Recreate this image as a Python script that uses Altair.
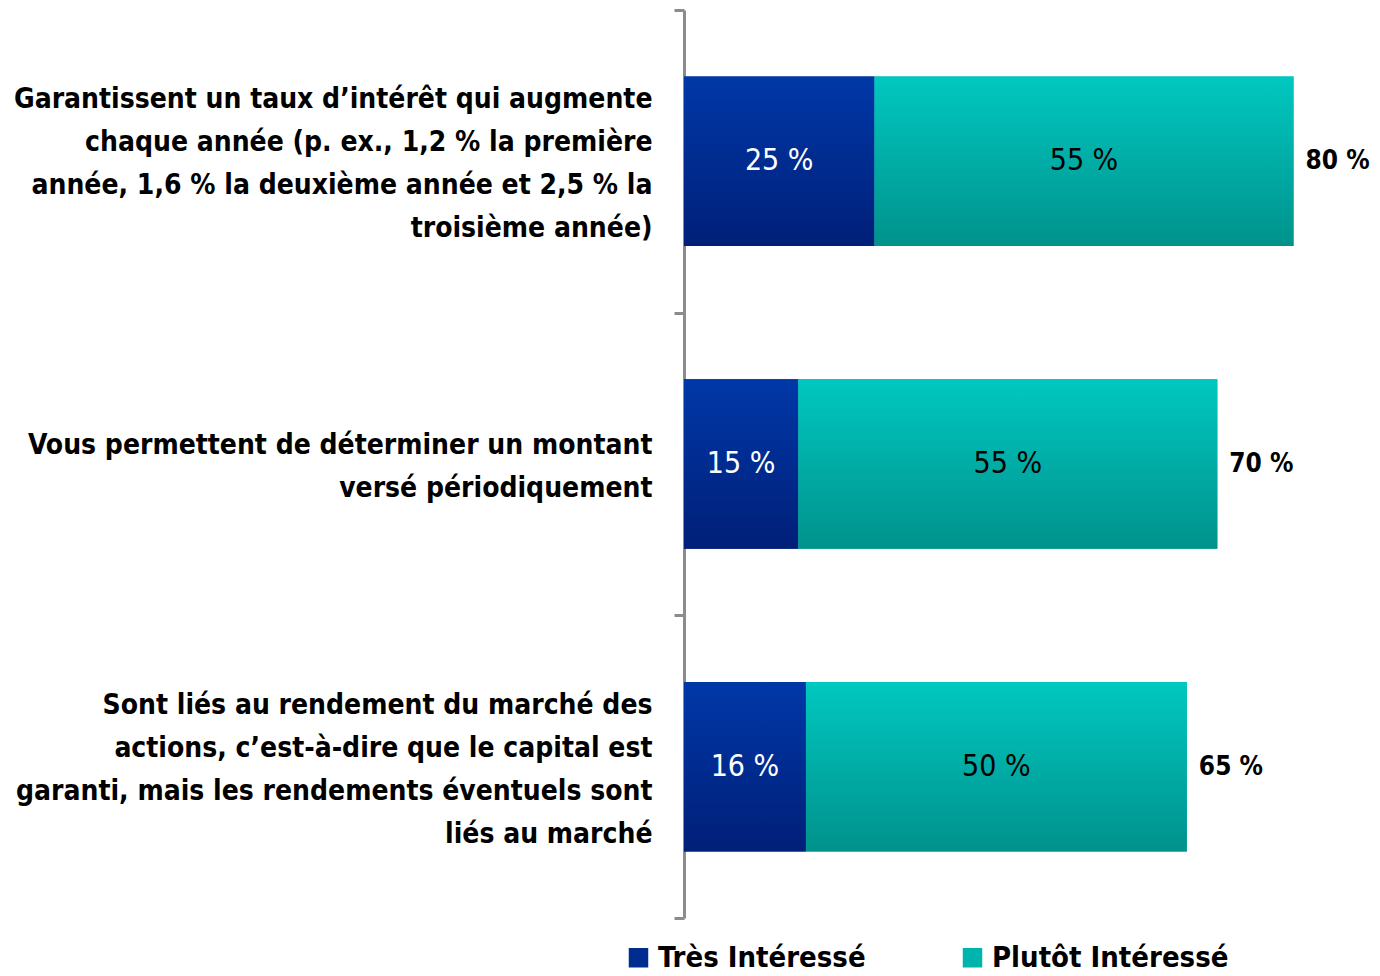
import altair as alt
import pandas as pd

categories = [
    "Garantissent un taux d’intérêt qui augmente|chaque année (p. ex., 1,2 % la première|année, 1,6 % la deuxième année et 2,5 % la|troisième année)",
    "|Vous permettent de déterminer un montant|versé périodiquement|",
    "Sont liés au rendement du marché des|actions, c’est-à-dire que le capital est|garanti, mais les rendements éventuels sont|liés au marché",
]
series_labels = ["Très Intéressé", "Plutôt Intéressé"]
tres = [25, 15, 16]
plutot = [55, 55, 50]
totals = [80, 70, 65]

FONT = "DejaVu Sans Condensed, Liberation Sans Narrow, DejaVu Sans, sans-serif"

rows = []
for i, c in enumerate(categories):
    rows.append({"category": c, "series": series_labels[0], "order": 0, "value": tres[i]})
    rows.append({"category": c, "series": series_labels[1], "order": 1, "value": plutot[i]})
df = pd.DataFrame(rows)

tot_df = pd.DataFrame({
    "category": categories,
    "end": [t + p for t, p in zip(tres, plutot)],
    "label": [f"{t} %" for t in totals],
})

y_enc = alt.Y(
    "category:N",
    sort=categories,
    title=None,
    scale=alt.Scale(paddingInner=0, paddingOuter=0),
    axis=alt.Axis(
        labelExpr="split(datum.label, '|')",
        labelFont=FONT,
        labelFontSize=28,
        labelFontWeight="bold",
        labelColor="black",
        labelLineHeight=43,
        labelAlign="right",
        labelBaseline="middle",
        labelOffset=-61.5,
        labelPadding=22,
        labelLimit=700,
        tickBand="extent",
        tickSize=10,
        tickWidth=3,
        tickColor="#8c8c8c",
        domainColor="#8c8c8c",
        domainWidth=3,
        grid=False,
    ),
)
x_scale = alt.Scale(domain=[0, 90.3], nice=False, zero=True)

base = alt.Chart(df).transform_stack(
    stack="value", groupby=["category"], as_=["x0", "x1"], sort=[alt.SortField("order")]
)

BAR_H = {"band": 0.56}

legend_bars = base.mark_bar(height=BAR_H).encode(
    x=alt.X("x0:Q", scale=x_scale, axis=None),
    x2="x1:Q",
    y=y_enc,
    color=alt.Color(
        "series:N",
        scale=alt.Scale(domain=series_labels, range=["#002c90", "#00b4ae"]),
        legend=alt.Legend(
            title=None,
            orient="none",
            legendX=-60,
            legendY=933,
            direction="horizontal",
            symbolType="square",
            symbolSize=380,
            symbolStrokeWidth=0,
            labelFont=FONT,
            labelFontSize=29,
            labelFontWeight="bold",
            labelColor="black",
            labelLimit=400,
            columnPadding=92,
            labelOffset=5,
        ),
    ),
)

def grad(top, bottom):
    return alt.Gradient(
        gradient="linear",
        stops=[alt.GradientStop(color=top, offset=0), alt.GradientStop(color=bottom, offset=1)],
        x1=0, x2=0, y1=0, y2=1,
    )

bars_tres = base.transform_filter(alt.datum.series == series_labels[0]).mark_bar(
    color=grad("#0038a8", "#001f78"), height=BAR_H
).encode(x=alt.X("x0:Q", scale=x_scale, axis=None), x2="x1:Q", y=y_enc)

bars_plutot = base.transform_filter(alt.datum.series == series_labels[1]).mark_bar(
    color=grad("#00c8c0", "#00928c"), height=BAR_H
).encode(x=alt.X("x0:Q", scale=x_scale, axis=None), x2="x1:Q", y=y_enc)

inner_text = base.transform_calculate(
    mid="(datum.x0 + datum.x1) / 2", lab="datum.value + ' %'"
).mark_text(font=FONT, fontSize=30, baseline="middle", align="center").encode(
    x=alt.X("mid:Q", scale=x_scale, axis=None),
    y=y_enc,
    text="lab:N",
    color=alt.condition(alt.datum.series == series_labels[0], alt.value("white"), alt.value("black")),
)

total_text = alt.Chart(tot_df).mark_text(
    font=FONT, fontSize=26, fontWeight="bold", align="left", baseline="middle", dx=12, color="black"
).encode(
    x=alt.X("end:Q", scale=x_scale, axis=None),
    y=y_enc,
    text="label:N",
)

chart = alt.layer(legend_bars, bars_tres, bars_plutot, inner_text, total_text).properties(
    width=688,
    height=908,
    background="white",
    autosize=alt.AutoSizeParams(type="none"),
    padding={"left": 676, "top": 2, "right": 0, "bottom": 58},
).configure_view(stroke=None)

chart.save("out.html", embed_options={"renderer": "svg", "actions": False})
